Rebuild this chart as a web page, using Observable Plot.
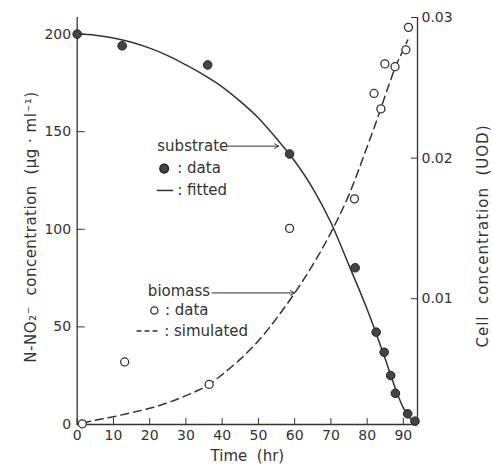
<!DOCTYPE html>
<html><head><meta charset="utf-8">
<script src="https://cdn.jsdelivr.net/npm/d3@7"></script>
<script src="https://cdn.jsdelivr.net/npm/@observablehq/plot@0.6"></script>
<style>body{margin:0;background:#fff;}</style>
</head><body><div id="chart"></div>
<script>
// Substrate (N-NO2-) data, µg/ml
const subT = [0, 12.4, 36.0, 58.6, 76.7, 82.5, 84.7, 86.5, 87.8, 91.2, 93.2];
const subS = [200, 194.0, 184.2, 138.6, 80.3, 47.3, 37.0, 25.1, 16.0, 5.5, 1.7];
// Substrate fitted curve
const fitT = [0, 5, 10, 15, 20, 25, 30, 35, 40, 45, 50, 55, 60, 65, 70, 75, 80, 85, 87.5, 90, 92, 93.7];
const fitS = [200, 199.4, 198, 195.8, 192.8, 189, 184.2, 179, 173, 165.5, 157, 146.5, 135, 121, 103.5, 81.5, 59, 33.5, 20, 8.5, 3, 0.5];
// Biomass data (UOD)
const bioT = [1.4, 13.1, 36.4, 58.6, 76.5, 81.9, 83.8, 84.9, 87.7, 90.7, 91.4];
const bioB = [0.0011, 0.0055, 0.0039, 0.0150, 0.0171, 0.0246, 0.0235, 0.0267, 0.0265, 0.0277, 0.0293];
// Biomass simulated curve
const simT = [1.5, 5, 10, 15, 20, 25, 30, 36.4, 40, 45, 50, 55, 60, 65, 70, 75, 80, 82, 84, 86, 88, 90, 91.2];
const simB = [0.00115, 0.00135, 0.0016, 0.0019, 0.0022, 0.0026, 0.0031, 0.0039, 0.0046, 0.0057, 0.007, 0.0086, 0.0104, 0.0124, 0.0147, 0.0174, 0.0208, 0.0222, 0.0237, 0.0252, 0.0266, 0.0277, 0.0284];
// Axis ticks
const xTicks = [0, 10, 20, 30, 40, 50, 60, 70, 80, 90];
const yTicks = [0, 50, 100, 150, 200];
const rightTicks = [0.01, 0.02, 0.03];

const xMax = 93.9, yMax = 208.5;
const bMin = 0.00105, bMax = 0.03;
const toLeft = b => (b - bMin) / (bMax - bMin) * yMax;
const fromLeft = v => bMin + v / yMax * (bMax - bMin);

const substrate = subT.map((t, i) => ({t, v: subS[i]}));
const fitted = fitT.map((t, i) => ({t, v: fitS[i]}));
const biomass = bioT.map((t, i) => ({t, v: toLeft(bioB[i])}));
const simulated = simT.map((t, i) => ({t, v: toLeft(simB[i])}));

const ink = "#333";
const fs = 15;

const chart = Plot.plot({
  width: 492, height: 472,
  marginLeft: 76.7, marginRight: 75, marginTop: 17, marginBottom: 48,
  x: {domain: [0, xMax]},
  y: {domain: [0, yMax]},
  style: {fontFamily: "DejaVu Sans", fontSize: "14px", color: ink, background: "#fff"},
  marks: [
    Plot.ruleX([0, xMax], {stroke: ink, strokeWidth: 1.3}),
    Plot.ruleY([0], {stroke: ink, strokeWidth: 1.3}),
    Plot.axisX(xTicks, {tickSize: -6, tickPadding: 12, label: null, stroke: ink, fontSize: 14}),
    Plot.axisY(yTicks, {tickSize: -8, tickPadding: 14, label: null, stroke: ink, fontSize: 14}),
    Plot.axisY(rightTicks.map(toLeft), {anchor: "right", tickSize: -7, tickPadding: 11, label: null, stroke: ink, fontSize: 14,
      tickFormat: v => fromLeft(v).toFixed(2)}),
    Plot.line(fitted, {x: "t", y: "v", curve: "monotone-x", stroke: ink, strokeWidth: 1.5}),
    Plot.line(simulated, {x: "t", y: "v", curve: "monotone-x", stroke: ink, strokeWidth: 1.5, strokeDasharray: "8,5"}),
    Plot.dot(substrate, {x: "t", y: "v", r: 4.3, fill: "#444", stroke: "#222", strokeWidth: 1}),
    Plot.dot(biomass, {x: "t", y: "v", r: 4, fill: "#fff", stroke: ink, strokeWidth: 1.3}),
    // substrate legend annotation
    Plot.text(["substrate"], {x: 22.1, y: 142.6, textAnchor: "start", fontSize: fs, fill: ink}),
    Plot.arrow([0], {x1: 41.6, x2: 55.6, y1: 142.6, y2: 142.6, stroke: ink, strokeWidth: 1, headLength: 7}),
    Plot.dot([0], {x: 24.0, y: 131.1, r: 4.3, fill: "#444", stroke: "#222"}),
    Plot.text([": data"], {x: 27.6, y: 131.1, textAnchor: "start", fontSize: fs, fill: ink}),
    Plot.ruleY([119.9], {x1: 22.1, x2: 26.6, stroke: ink, strokeWidth: 1.5}),
    Plot.text([": fitted"], {x: 27.6, y: 119.9, textAnchor: "start", fontSize: fs, fill: ink}),
    // biomass legend annotation
    Plot.text(["biomass"], {x: 19.5, y: 68.1, textAnchor: "start", fontSize: fs, fill: ink}),
    Plot.arrow([0], {x1: 37.2, x2: 60.0, y1: 67.4, y2: 67.4, stroke: ink, strokeWidth: 1, headLength: 7}),
    Plot.dot([0], {x: 21.3, y: 58.4, r: 3.6, fill: "#fff", stroke: ink, strokeWidth: 1.3}),
    Plot.text([": data"], {x: 24.2, y: 58.4, textAnchor: "start", fontSize: fs, fill: ink}),
    Plot.ruleY([47.9], {x1: 16.5, x2: 22.6, stroke: ink, strokeWidth: 1.5, strokeDasharray: "5,3"}),
    Plot.text([": simulated"], {x: 24.0, y: 47.9, textAnchor: "start", fontSize: fs, fill: ink}),
    // axis titles
    Plot.text(["Time  (hr)"], {frameAnchor: "bottom", dy: 32, lineAnchor: "middle", textAnchor: "middle", fontSize: 15, fill: ink}),
    Plot.text(["N-NO\u2082\u207B  concentration  (\u03BCg \u00B7 ml\u207B\u00B9)"], {frameAnchor: "left", textAnchor: "middle", lineAnchor: "middle", rotate: -90, dx: -46, dy: 6, fontSize: 15, fill: ink}),
    Plot.text(["Cell  concentration  (UOD)"], {frameAnchor: "right", textAnchor: "middle", lineAnchor: "middle", rotate: -90, dx: 66, dy: 15, fontSize: 15, fill: ink})
  ]
});
d3.select(chart).selectAll("text")
  .filter(function() { return /^N-NO/.test(this.textContent); })
  .attr("letter-spacing", "0.5px");
d3.select(chart).selectAll("text")
  .filter(function() { return /^Cell/.test(this.textContent); })
  .attr("letter-spacing", "1px");
document.getElementById("chart").appendChild(chart);
</script>
</body></html>
